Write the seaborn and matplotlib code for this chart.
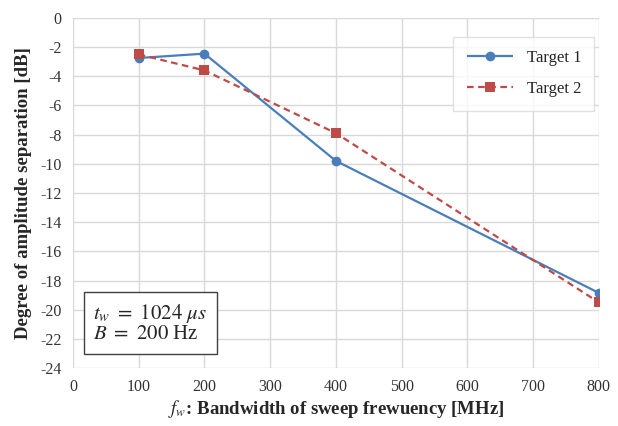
import matplotlib
matplotlib.use("Agg")
import matplotlib.pyplot as plt
import seaborn as sns
import pandas as pd

bandwidth = [100, 200, 400, 800]
target1 = [-2.75, -2.45, -9.8, -18.85]
target2 = [-2.5, -3.6, -7.9, -19.5]
series_names = ["Target 1", "Target 2"]

sns.set_theme(style="white")
plt.rcParams['font.family'] = ['Liberation Serif', 'DejaVu Serif']
plt.rcParams['mathtext.fontset'] = 'stix'

df = pd.DataFrame({
    "bw": bandwidth * 2,
    "val": target1 + target2,
    "series": [series_names[0]] * 4 + [series_names[1]] * 4,
})

fig = plt.figure(figsize=(6.18, 4.26), dpi=100)
ax = fig.add_axes([0.118, 0.136, 0.851, 0.822])

blue = "#4A7EBB"
red = "#BE4B48"
sns.lineplot(data=df, x="bw", y="val", hue="series", style="series",
             palette=[blue, red], markers=["o", "s"], dashes=[(1, 0), (3, 2)],
             markersize=7, linewidth=1.6, markeredgewidth=0, ax=ax)

ax.set_xlim(0, 800)
ax.set_ylim(-24, 0)
ax.set_xticks(range(0, 801, 100))
ax.set_yticks(range(-24, 1, 2))
ax.set_yticklabels([str(v) for v in range(-24, 1, 2)])
ax.grid(True, color="#D9D9D9", linewidth=1)
ax.set_axisbelow(True)
for s in ax.spines.values():
    s.set_visible(False)
ax.tick_params(axis="both", labelsize=11.5, colors="#404040", length=0, pad=8)
for lbl in ax.get_xticklabels() + ax.get_yticklabels():
    lbl.set_color("#333333")

ax.set_xlabel(r"$f_w$: Bandwidth of sweep frewuency [MHz]", fontsize=13.5,
              fontweight="bold", labelpad=2)
ax.set_ylabel("Degree of amplitude separation [dB]", fontsize=13.5,
              fontweight="bold", labelpad=6)

leg = ax.legend(loc="upper right", bbox_to_anchor=(0.998, 0.955), fontsize=12,
                frameon=True, fancybox=False, edgecolor="#D9D9D9",
                borderpad=0.8, labelspacing=0.9, handlelength=2.8,
                borderaxespad=0.2)
leg.get_frame().set_linewidth(1.0)
leg.set_title(None)

ax.text(0.038, 0.068, "$t_w\\ =\\ 1024\\ \\mu s$\n$B\\ =\\ 200$ Hz", transform=ax.transAxes,
        fontsize=15, va="bottom", ha="left", linespacing=1.0,
        bbox=dict(boxstyle="square,pad=0.45", facecolor="white",
                  edgecolor="#404040", linewidth=1.0))

fig.savefig("out.png", dpi=100)
